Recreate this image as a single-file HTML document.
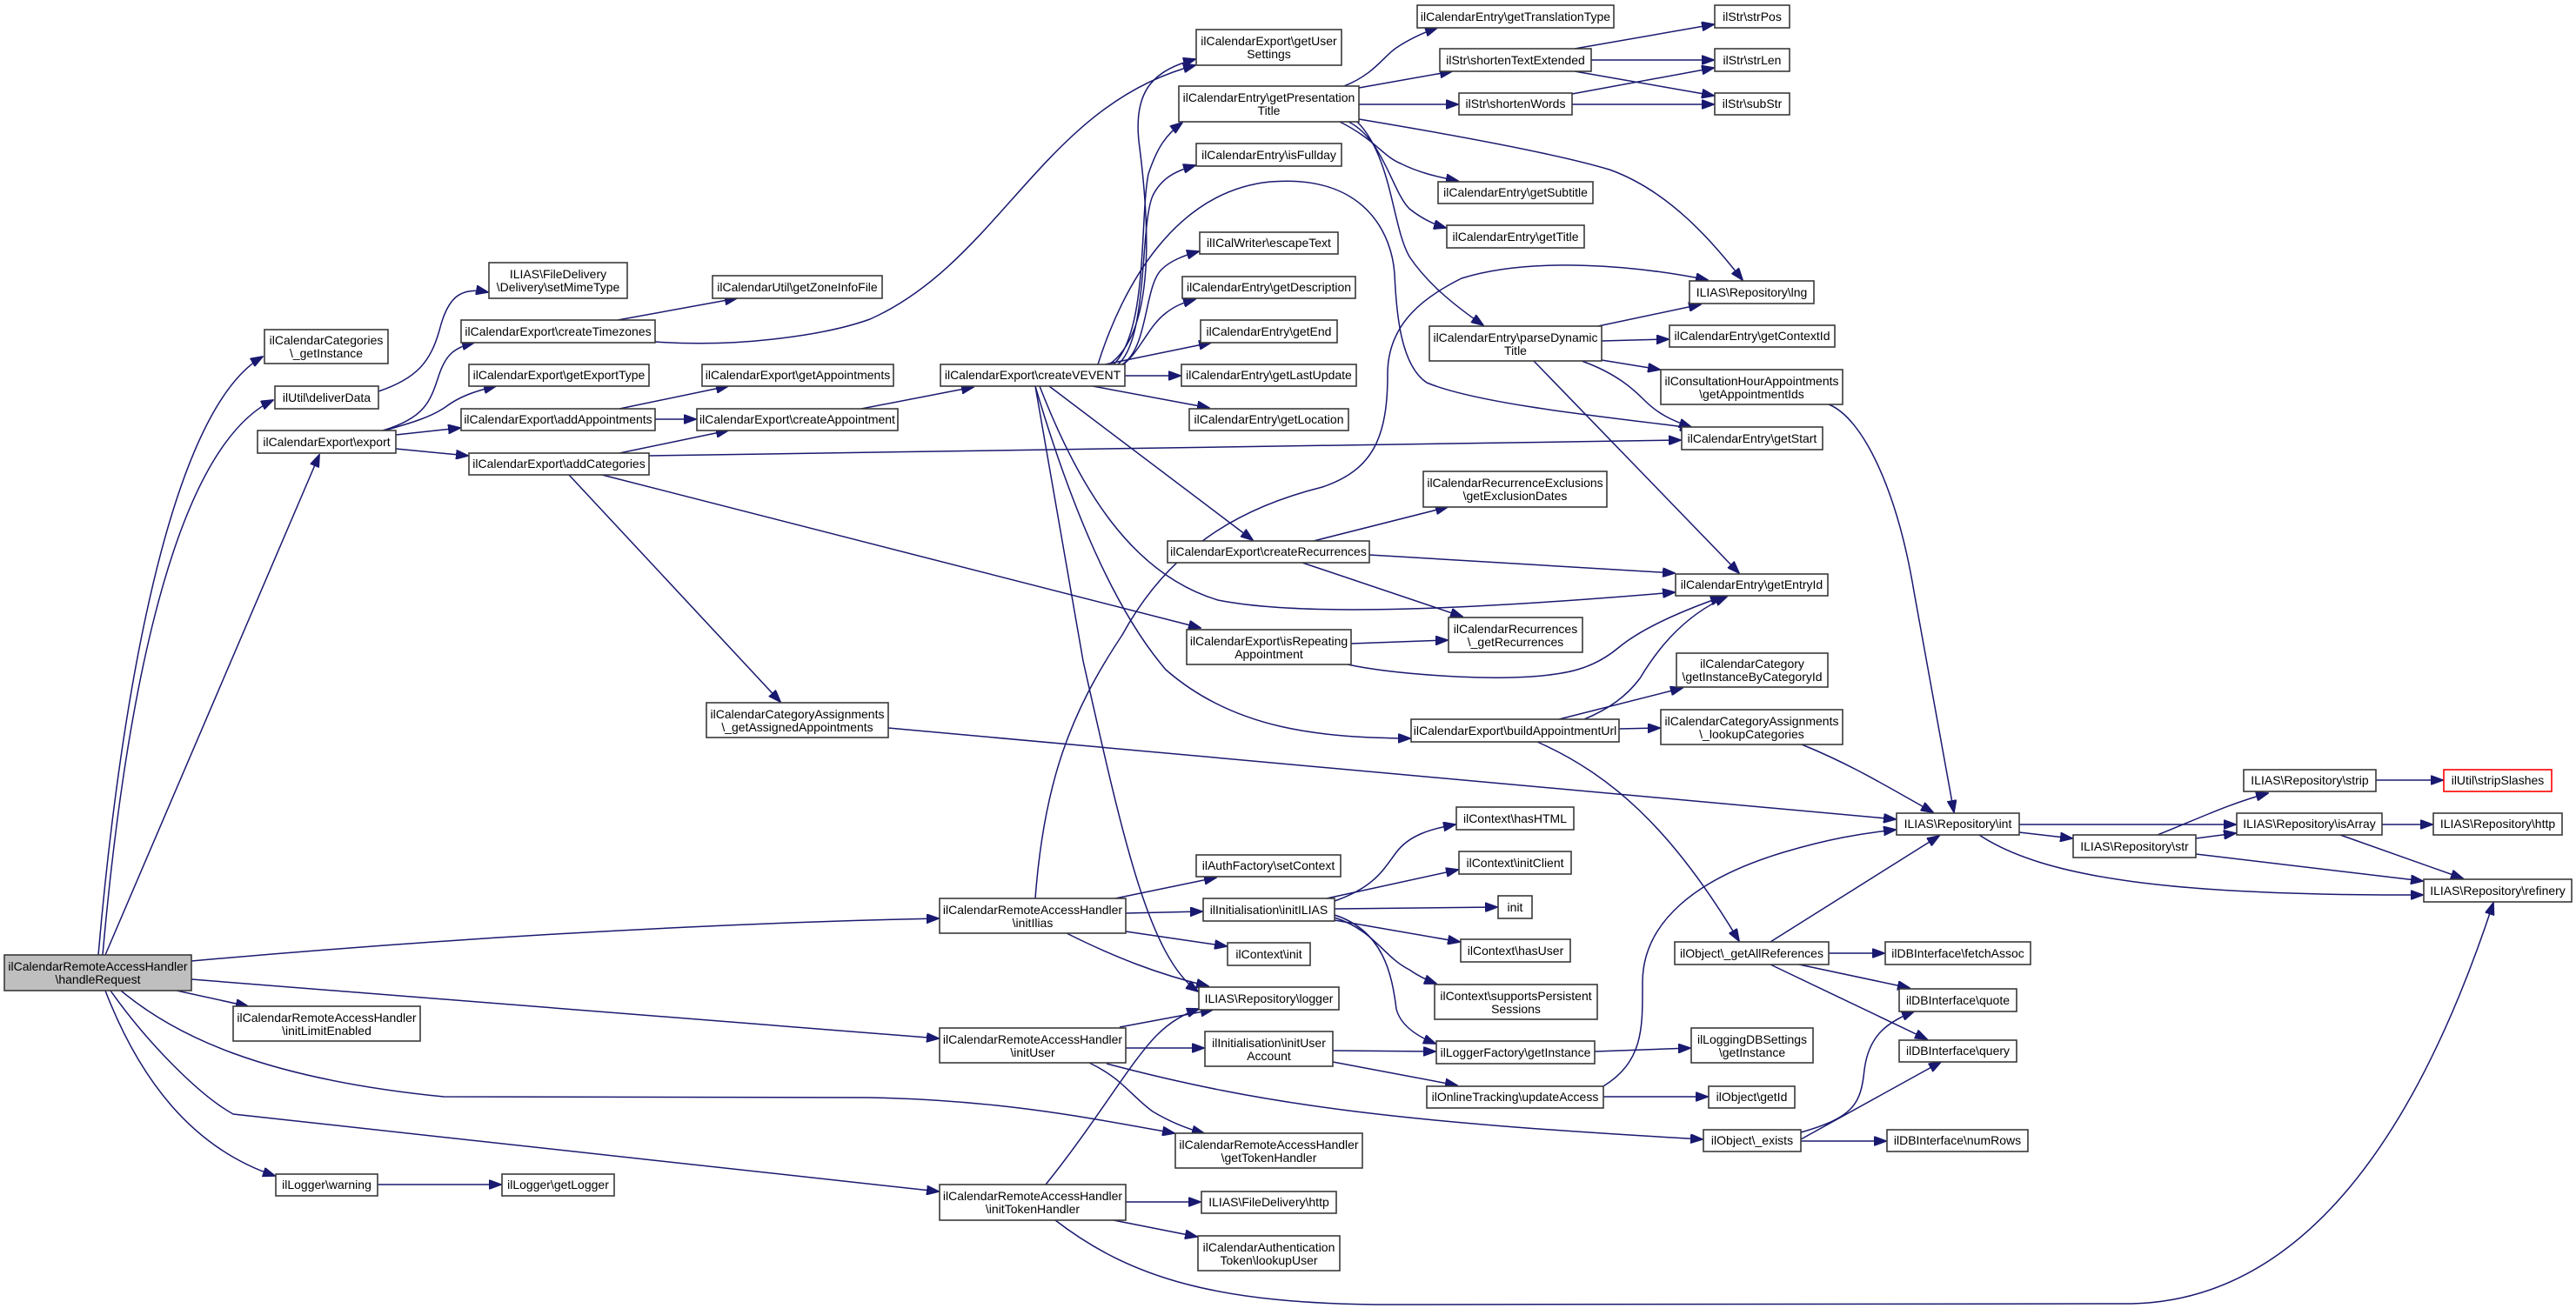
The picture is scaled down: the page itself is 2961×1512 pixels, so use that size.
<!DOCTYPE html>
<html><head><meta charset="utf-8"><style>
html,body{margin:0;padding:0;background:#fff;}
svg{display:block;}
text{font-family:"Liberation Sans",Arial,sans-serif;font-size:14px;fill:#000;text-anchor:middle;}
.n{fill:#fff;stroke:#3a3a3a;stroke-width:1.6;}
.e{fill:none;stroke:#191970;stroke-width:1.5;marker-end:url(#a);}
</style></head><body>
<svg width="2961" height="1512" viewBox="0 0 2961 1512" xmlns="http://www.w3.org/2000/svg">
<defs><marker id="a" markerWidth="15" markerHeight="11" refX="14" refY="5.5" orient="auto" markerUnits="userSpaceOnUse"><path d="M0,0 L15,5.5 L0,11 z" fill="#191970" stroke="#191970"/></marker></defs>

<!-- edges -->
<g>
<path class="e" d="M113,1098 C130,900 180,480 302,410"/>
<path class="e" d="M118,1098 C140,850 190,520 314,460"/>
<path class="e" d="M121,1098 L367,523"/>
<path class="e" d="M220,1105 C500,1080 800,1062 1079,1056"/>
<path class="e" d="M203,1139 L285,1157"/>
<path class="e" d="M220,1126 L1079,1194"/>
<path class="e" d="M139,1139 C200,1190 300,1240 510,1261 L1000,1262 C1150,1265 1250,1285 1350,1303"/>
<path class="e" d="M127,1139 C170,1200 230,1260 268,1281 L1079,1370"/>
<path class="e" d="M121,1139 C160,1240 220,1320 316,1352"/>
<path class="e" d="M434,1362 L576,1362"/>
<path class="e" d="M435,450 C480,435 495,415 505,380 C515,340 530,330 561,336"/>
<path class="e" d="M440,495 C490,480 495,460 505,430 C512,410 520,400 545,394"/>
<path class="e" d="M442,495 C470,487 495,480 512,468 C528,456 545,450 570,444"/>
<path class="e" d="M455,500 L529,492"/>
<path class="e" d="M455,516 L538,524"/>
<path class="e" d="M710,368 L847,343"/>
<path class="e" d="M753,393 C850,400 950,385 1000,367 C1150,300 1200,120 1374,75"/>
<path class="e" d="M712,470 L837,444"/>
<path class="e" d="M753,482 L800,482"/>
<path class="e" d="M712,521 L837,495"/>
<path class="e" d="M746,524 L1932,506"/>
<path class="e" d="M692,546 L1380,722"/>
<path class="e" d="M654,546 L897,807"/>
<path class="e" d="M1021,837 L2179,942"/>
<path class="e" d="M990,470 L1119,445"/>
<path class="e" d="M1275,419 C1330,380 1320,250 1310,170 C1300,100 1330,80 1374,68"/>
<path class="e" d="M1280,419 C1320,380 1310,250 1320,200 C1330,170 1340,155 1359,141"/>
<path class="e" d="M1285,419 C1320,390 1310,260 1325,225 C1335,205 1350,197 1374,190"/>
<path class="e" d="M1290,419 C1320,400 1315,330 1335,310 C1345,300 1360,294 1378,289"/>
<path class="e" d="M1290,420 C1310,405 1320,375 1340,360 C1350,352 1360,348 1374,344"/>
<path class="e" d="M1270,419 L1392,394"/>
<path class="e" d="M1293,432 L1357,432"/>
<path class="e" d="M1256,444 L1390,469"/>
<path class="e" d="M1262,419 C1290,330 1350,220 1460,209 C1570,200 1600,270 1603,315 C1605,360 1610,420 1640,440 C1700,465 1850,480 1945,492"/>
<path class="e" d="M1190,1033 C1200,900 1230,820 1290,730 C1350,620 1440,580 1520,560 C1580,540 1595,500 1595,430 C1595,370 1640,340 1680,320 C1760,295 1880,305 1963,322"/>
<path class="e" d="M1206,444 L1440,621"/>
<path class="e" d="M1195,444 C1240,560 1300,660 1400,690 C1500,710 1700,700 1925,681"/>
<path class="e" d="M1190,444 C1230,580 1280,700 1340,770 C1420,840 1520,848 1621,849"/>
<path class="e" d="M1190,444 L1245,760 C1290,960 1320,1100 1377,1140"/>
<path class="e" d="M1226,1073 C1280,1100 1330,1120 1389,1134"/>
<path class="e" d="M1287,1181 L1394,1161"/>
<path class="e" d="M1202,1362 C1260,1290 1300,1220 1330,1190 C1345,1175 1360,1166 1378,1160"/>
<path class="e" d="M1282,1033 L1398,1009"/>
<path class="e" d="M1294,1050 L1382,1048"/>
<path class="e" d="M1294,1071 L1410,1088"/>
<path class="e" d="M1534,1036 C1580,1020 1590,1000 1605,980 C1620,960 1645,953 1673,948"/>
<path class="e" d="M1525,1033 L1676,1000"/>
<path class="e" d="M1534,1045 L1721,1043"/>
<path class="e" d="M1534,1058 L1678,1083"/>
<path class="e" d="M1534,1055 C1580,1070 1590,1100 1620,1115 C1630,1122 1640,1127 1651,1131"/>
<path class="e" d="M1534,1052 C1590,1070 1600,1120 1605,1160 C1610,1180 1630,1192 1650,1200"/>
<path class="e" d="M1294,1205 L1384,1205"/>
<path class="e" d="M1252,1222 C1290,1240 1300,1260 1325,1278 C1345,1290 1365,1298 1384,1303"/>
<path class="e" d="M1272,1223 C1450,1270 1600,1290 1957,1310"/>
<path class="e" d="M1532,1208 L1650,1209"/>
<path class="e" d="M1532,1221 L1675,1248"/>
<path class="e" d="M1833,1209 L1943,1205"/>
<path class="e" d="M1843,1261 L1963,1261"/>
<path class="e" d="M1843,1249 C1890,1220 1888,1180 1888,1130 C1888,1060 1950,1010 2050,980 C2100,965 2140,958 2179,954"/>
<path class="e" d="M1792,827 L1934,791"/>
<path class="e" d="M1549,764 C1600,775 1700,782 1760,778 C1800,775 1830,770 1860,745 C1890,720 1940,700 1980,686"/>
<path class="e" d="M1821,827 C1850,815 1870,800 1885,780 C1900,755 1930,710 1985,686"/>
<path class="e" d="M1553,740 L1664,736"/>
<path class="e" d="M1861,838 L1908,837"/>
<path class="e" d="M1767,853 C1850,890 1920,950 1999,1082"/>
<path class="e" d="M2071,856 C2130,880 2170,905 2222,934"/>
<path class="e" d="M2035,1083 L2229,961"/>
<path class="e" d="M2102,1096 L2166,1096"/>
<path class="e" d="M2068,1109 L2195,1136"/>
<path class="e" d="M2035,1109 L2215,1195"/>
<path class="e" d="M2070,1302 C2130,1285 2139,1270 2143,1230 C2148,1190 2170,1175 2200,1163"/>
<path class="e" d="M2070,1310 L2231,1221"/>
<path class="e" d="M2070,1312 L2168,1312"/>
<path class="e" d="M2102,465 C2140,480 2180,560 2200,680 L2246,934"/>
<path class="e" d="M2321,948 L2570,948"/>
<path class="e" d="M2321,957 L2382,964"/>
<path class="e" d="M2275,960 C2350,1010 2500,1030 2785,1029"/>
<path class="e" d="M2480,960 C2530,940 2560,925 2607,912"/>
<path class="e" d="M2524,964 L2570,958"/>
<path class="e" d="M2524,982 L2785,1013"/>
<path class="e" d="M2731,897 L2808,897"/>
<path class="e" d="M2738,948 L2796,948"/>
<path class="e" d="M2690,960 L2831,1010"/>
<path class="e" d="M1294,1382 L1380,1382"/>
<path class="e" d="M1280,1403 L1376,1422"/>
<path class="e" d="M1213,1403 C1300,1470 1400,1500 1600,1500 L2450,1499 C2650,1495 2780,1300 2866,1038"/>
<path class="e" d="M1545,99 C1580,85 1590,65 1605,55 C1620,45 1635,38 1652,32"/>
<path class="e" d="M1562,101 L1669,82"/>
<path class="e" d="M1562,120 L1676,120"/>
<path class="e" d="M1562,137 C1700,160 1800,180 1850,195 C1920,220 1970,280 2003,322"/>
<path class="e" d="M1540,140 C1580,160 1590,180 1610,188 C1630,198 1650,203 1676,208"/>
<path class="e" d="M1550,140 C1590,160 1600,220 1620,240 C1635,252 1648,258 1662,262"/>
<path class="e" d="M1560,140 C1600,180 1600,260 1620,295 C1640,325 1670,350 1705,374"/>
<path class="e" d="M1810,56 L1970,28"/>
<path class="e" d="M1829,69 L1970,69"/>
<path class="e" d="M1810,82 L1970,110"/>
<path class="e" d="M1807,108 L1970,78"/>
<path class="e" d="M1807,120 L1970,120"/>
<path class="e" d="M1837,375 L1955,350"/>
<path class="e" d="M1841,392 L1918,390"/>
<path class="e" d="M1841,414 L1908,425"/>
<path class="e" d="M1818,415 C1860,430 1880,450 1890,460 C1905,475 1920,483 1944,491"/>
<path class="e" d="M1763,415 L1999,659"/>
<path class="e" d="M1510,622 L1664,583"/>
<path class="e" d="M1574,638 L1925,659"/>
<path class="e" d="M1497,647 L1681,709"/>
</g>

<!-- nodes -->
<g>
<rect x="5" y="1098" width="215" height="41" fill="#bfbfbf" stroke="#3a3a3a" stroke-width="1.6"/><text x="112.5" y="1116">ilCalendarRemoteAccessHandler</text><text x="112.5" y="1131">\handleRequest</text>
<rect class="n" x="304" y="379" width="142" height="39"/><text x="375" y="396">ilCalendarCategories</text><text x="375" y="411">\_getInstance</text>
<rect class="n" x="316" y="444" width="119" height="26"/><text x="375.5" y="462">ilUtil\deliverData</text>
<rect class="n" x="296" y="495" width="159" height="26"/><text x="375.5" y="513">ilCalendarExport\export</text>
<rect class="n" x="268" y="1157" width="215" height="40"/><text x="375.5" y="1175">ilCalendarRemoteAccessHandler</text><text x="375.5" y="1190">\initLimitEnabled</text>
<rect class="n" x="317" y="1350" width="117" height="25"/><text x="375.5" y="1367">ilLogger\warning</text>
<rect class="n" x="577" y="1350" width="129" height="25"/><text x="641.5" y="1367">ilLogger\getLogger</text>
<rect class="n" x="562" y="302" width="159" height="41"/><text x="641.5" y="320">ILIAS\FileDelivery</text><text x="641.5" y="335">\Delivery\setMimeType</text>
<rect class="n" x="530" y="368" width="223" height="26"/><text x="641.5" y="386">ilCalendarExport\createTimezones</text>
<rect class="n" x="539" y="419" width="207" height="25"/><text x="642.5" y="436">ilCalendarExport\getExportType</text>
<rect class="n" x="530" y="470" width="223" height="25"/><text x="641.5" y="487">ilCalendarExport\addAppointments</text>
<rect class="n" x="539" y="521" width="207" height="25"/><text x="642.5" y="538">ilCalendarExport\addCategories</text>
<rect class="n" x="819" y="317" width="195" height="26"/><text x="916.5" y="335">ilCalendarUtil\getZoneInfoFile</text>
<rect class="n" x="807" y="419" width="220" height="25"/><text x="917" y="436">ilCalendarExport\getAppointments</text>
<rect class="n" x="801" y="470" width="231" height="25"/><text x="916.5" y="487">ilCalendarExport\createAppointment</text>
<rect class="n" x="812" y="808" width="209" height="40"/><text x="916.5" y="826">ilCalendarCategoryAssignments</text><text x="916.5" y="841">\_getAssignedAppointments</text>
<rect class="n" x="1081" y="419" width="212" height="25"/><text x="1187" y="436">ilCalendarExport\createVEVENT</text>
<rect class="n" x="1375" y="34" width="167" height="41"/><text x="1458.5" y="52">ilCalendarExport\getUser</text><text x="1458.5" y="67">Settings</text>
<rect class="n" x="1355" y="99" width="207" height="41"/><text x="1458.5" y="117">ilCalendarEntry\getPresentation</text><text x="1458.5" y="132">Title</text>
<rect class="n" x="1375" y="165" width="167" height="26"/><text x="1458.5" y="183">ilCalendarEntry\isFullday</text>
<rect class="n" x="1379" y="267" width="159" height="25"/><text x="1458.5" y="284">ilICalWriter\escapeText</text>
<rect class="n" x="1359" y="318" width="199" height="25"/><text x="1458.5" y="335">ilCalendarEntry\getDescription</text>
<rect class="n" x="1380" y="368" width="157" height="26"/><text x="1458.5" y="386">ilCalendarEntry\getEnd</text>
<rect class="n" x="1358" y="419" width="201" height="25"/><text x="1458.5" y="436">ilCalendarEntry\getLastUpdate</text>
<rect class="n" x="1367" y="470" width="183" height="25"/><text x="1458.5" y="487">ilCalendarEntry\getLocation</text>
<rect class="n" x="1342" y="622" width="232" height="25"/><text x="1458" y="639">ilCalendarExport\createRecurrences</text>
<rect class="n" x="1364" y="724" width="189" height="40"/><text x="1458.5" y="742">ilCalendarExport\isRepeating</text><text x="1458.5" y="757">Appointment</text>
<rect class="n" x="1622" y="827" width="239" height="26"/><text x="1741.5" y="845">ilCalendarExport\buildAppointmentUrl</text>
<rect class="n" x="1080" y="1033" width="214" height="40"/><text x="1187" y="1051">ilCalendarRemoteAccessHandler</text><text x="1187" y="1066">\initIlias</text>
<rect class="n" x="1080" y="1182" width="214" height="40"/><text x="1187" y="1200">ilCalendarRemoteAccessHandler</text><text x="1187" y="1215">\initUser</text>
<rect class="n" x="1080" y="1362" width="214" height="41"/><text x="1187" y="1380">ilCalendarRemoteAccessHandler</text><text x="1187" y="1395">\initTokenHandler</text>
<rect class="n" x="1375" y="983" width="166" height="25"/><text x="1458" y="1000">ilAuthFactory\setContext</text>
<rect class="n" x="1383" y="1033" width="151" height="26"/><text x="1458.5" y="1051">ilInitialisation\initILIAS</text>
<rect class="n" x="1411" y="1084" width="95" height="26"/><text x="1458.5" y="1102">ilContext\init</text>
<rect class="n" x="1378" y="1135" width="161" height="26"/><text x="1458.5" y="1153">ILIAS\Repository\logger</text>
<rect class="n" x="1385" y="1186" width="147" height="40"/><text x="1458.5" y="1204">ilInitialisation\initUser</text><text x="1458.5" y="1219">Account</text>
<rect class="n" x="1351" y="1303" width="215" height="40"/><text x="1458.5" y="1321">ilCalendarRemoteAccessHandler</text><text x="1458.5" y="1336">\getTokenHandler</text>
<rect class="n" x="1381" y="1370" width="155" height="25"/><text x="1458.5" y="1387">ILIAS\FileDelivery\http</text>
<rect class="n" x="1377" y="1421" width="163" height="40"/><text x="1458.5" y="1439">ilCalendarAuthentication</text><text x="1458.5" y="1454">Token\lookupUser</text>
<rect class="n" x="1629" y="6" width="226" height="26"/><text x="1742" y="24">ilCalendarEntry\getTranslationType</text>
<rect class="n" x="1655" y="56" width="174" height="26"/><text x="1742" y="74">ilStr\shortenTextExtended</text>
<rect class="n" x="1677" y="107" width="130" height="25"/><text x="1742" y="124">ilStr\shortenWords</text>
<rect class="n" x="1653" y="209" width="178" height="25"/><text x="1742" y="226">ilCalendarEntry\getSubtitle</text>
<rect class="n" x="1663" y="259" width="158" height="26"/><text x="1742" y="277">ilCalendarEntry\getTitle</text>
<rect class="n" x="1643" y="375" width="198" height="40"/><text x="1742" y="393">ilCalendarEntry\parseDynamic</text><text x="1742" y="408">Title</text>
<rect class="n" x="1636" y="542" width="211" height="41"/><text x="1741.5" y="560">ilCalendarRecurrenceExclusions</text><text x="1741.5" y="575">\getExclusionDates</text>
<rect class="n" x="1665" y="710" width="154" height="40"/><text x="1742" y="728">ilCalendarRecurrences</text><text x="1742" y="743">\_getRecurrences</text>
<rect class="n" x="1971" y="6" width="86" height="26"/><text x="2014" y="24">ilStr\strPos</text>
<rect class="n" x="1971" y="56" width="86" height="26"/><text x="2014" y="74">ilStr\strLen</text>
<rect class="n" x="1971" y="107" width="86" height="25"/><text x="2014" y="124">ilStr\subStr</text>
<rect class="n" x="1942" y="323" width="143" height="26"/><text x="2013.5" y="341">ILIAS\Repository\lng</text>
<rect class="n" x="1919" y="374" width="190" height="25"/><text x="2014" y="391">ilCalendarEntry\getContextId</text>
<rect class="n" x="1909" y="425" width="209" height="40"/><text x="2013.5" y="443">ilConsultationHourAppointments</text><text x="2013.5" y="458">\getAppointmentIds</text>
<rect class="n" x="1933" y="491" width="162" height="26"/><text x="2014" y="509">ilCalendarEntry\getStart</text>
<rect class="n" x="1926" y="660" width="175" height="25"/><text x="2013.5" y="677">ilCalendarEntry\getEntryId</text>
<rect class="n" x="1927" y="751" width="174" height="39"/><text x="2014" y="768">ilCalendarCategory</text><text x="2014" y="783">\getInstanceByCategoryId</text>
<rect class="n" x="1909" y="816" width="209" height="40"/><text x="2013.5" y="834">ilCalendarCategoryAssignments</text><text x="2013.5" y="849">\_lookupCategories</text>
<rect class="n" x="1674" y="928" width="135" height="26"/><text x="1741.5" y="946">ilContext\hasHTML</text>
<rect class="n" x="1677" y="979" width="129" height="26"/><text x="1741.5" y="997">ilContext\initClient</text>
<rect class="n" x="1722" y="1030" width="39" height="26"/><text x="1741.5" y="1048">init</text>
<rect class="n" x="1679" y="1080" width="126" height="26"/><text x="1742" y="1098">ilContext\hasUser</text>
<rect class="n" x="1649" y="1132" width="187" height="40"/><text x="1742.5" y="1150">ilContext\supportsPersistent</text><text x="1742.5" y="1165">Sessions</text>
<rect class="n" x="1651" y="1197" width="182" height="26"/><text x="1742" y="1215">ilLoggerFactory\getInstance</text>
<rect class="n" x="1944" y="1182" width="140" height="40"/><text x="2014" y="1200">ilLoggingDBSettings</text><text x="2014" y="1215">\getInstance</text>
<rect class="n" x="1640" y="1249" width="203" height="25"/><text x="1741.5" y="1266">ilOnlineTracking\updateAccess</text>
<rect class="n" x="1964" y="1249" width="99" height="25"/><text x="2013.5" y="1266">ilObject\getId</text>
<rect class="n" x="1958" y="1299" width="112" height="25"/><text x="2014" y="1316">ilObject\_exists</text>
<rect class="n" x="1925" y="1083" width="177" height="26"/><text x="2013.5" y="1101">ilObject\_getAllReferences</text>
<rect class="n" x="2180" y="935" width="141" height="25"/><text x="2250.5" y="952">ILIAS\Repository\int</text>
<rect class="n" x="2167" y="1083" width="167" height="26"/><text x="2250.5" y="1101">ilDBInterface\fetchAssoc</text>
<rect class="n" x="2183" y="1137" width="135" height="26"/><text x="2250.5" y="1155">ilDBInterface\quote</text>
<rect class="n" x="2183" y="1196" width="135" height="25"/><text x="2250.5" y="1213">ilDBInterface\query</text>
<rect class="n" x="2169" y="1299" width="162" height="25"/><text x="2250" y="1316">ilDBInterface\numRows</text>
<rect class="n" x="2383" y="960" width="141" height="26"/><text x="2453.5" y="978">ILIAS\Repository\str</text>
<rect class="n" x="2579" y="885" width="152" height="25"/><text x="2655" y="902">ILIAS\Repository\strip</text>
<rect x="2809" y="885" width="124" height="25" fill="#fff" stroke="#ff0000" stroke-width="1.6"/><text x="2871" y="902">ilUtil\stripSlashes</text>
<rect class="n" x="2571" y="935" width="167" height="25"/><text x="2654.5" y="952">ILIAS\Repository\isArray</text>
<rect class="n" x="2797" y="935" width="148" height="25"/><text x="2871" y="952">ILIAS\Repository\http</text>
<rect class="n" x="2786" y="1011" width="170" height="26"/><text x="2871" y="1029">ILIAS\Repository\refinery</text>
</g>
</svg>
</body></html>
